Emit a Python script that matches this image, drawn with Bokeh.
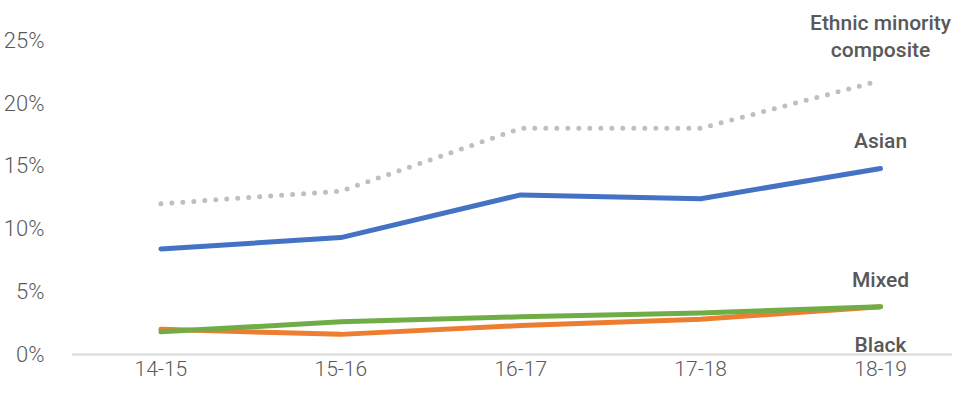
from bokeh.plotting import figure
from bokeh.models import Range1d, FixedTicker, Label, Span
from bokeh.embed import file_html
from bokeh.resources import INLINE

# ---- data ----
years = ["14-15", "15-16", "16-17", "17-18", "18-19"]
composite = [12.0, 13.0, 18.0, 18.0, 21.8]
asian = [8.4, 9.3, 12.7, 12.4, 14.8]
mixed = [1.8, 2.6, 3.0, 3.3, 3.8]
black = [2.0, 1.6, 2.3, 2.8, 3.8]
y_ticks = [0, 5, 10, 15, 20, 25]
y_tick_labels = ["0%", "5%", "10%", "15%", "20%", "25%"]

FONT = "Roboto Light"
LFONT = "Roboto Medium"
TXT = "#595959"

xs = list(range(len(years)))

p = figure(width=952, height=384, output_backend="svg", toolbar_location=None,
           x_range=Range1d(-0.497, 4.40), y_range=Range1d(-0.32, 28.17),
           min_border_left=0, min_border_right=0, min_border_top=0, min_border_bottom=0)
p.outline_line_color = None
p.xgrid.grid_line_color = None
p.ygrid.grid_line_color = None

# baseline at 0%
p.add_layout(Span(location=0, dimension="width", line_color="#D9D9D9", line_width=2, level="underlay"))

p.line(xs, composite, line_color="#BFBFBF", line_width=5, line_dash="0 11", line_cap="round", line_join="round")
p.line(xs, asian, line_color="#4472C4", line_width=5, line_cap="round", line_join="round")
p.line(xs, black, line_color="#ED7D31", line_width=5, line_cap="round", line_join="round")
p.line(xs, mixed, line_color="#70AD47", line_width=5, line_cap="round", line_join="round")

# axes
p.xaxis.ticker = FixedTicker(ticks=xs)
p.xaxis.major_label_overrides = {i: t for i, t in enumerate(years)}
p.xaxis.axis_line_color = None
p.xaxis.major_tick_line_color = None
p.xaxis.minor_tick_line_color = None
p.xaxis.major_tick_out = 0
p.xaxis.major_label_standoff = 2
p.xaxis.axis_label = " "
p.xaxis.axis_label_text_font_size = "3px"
p.xaxis.axis_label_standoff = 0
p.xaxis.major_label_text_font = FONT
p.xaxis.major_label_text_font_size = "21px"
p.xaxis.major_label_text_color = TXT

p.yaxis.ticker = FixedTicker(ticks=y_ticks)
p.yaxis.major_label_overrides = {t: l for t, l in zip(y_ticks, y_tick_labels)}
p.yaxis.axis_line_color = None
p.yaxis.major_tick_line_color = None
p.yaxis.minor_tick_line_color = None
p.yaxis.major_label_standoff = 21
p.yaxis.major_label_text_font = FONT
p.yaxis.major_label_text_font_size = "22px"
p.yaxis.major_label_text_color = TXT

# series labels
label_specs = [("Ethnic minority", 26.4), ("composite", 24.2), ("Asian", 16.95), ("Mixed", 5.95), ("Black", 0.75)]
for txt, yy in label_specs:
    p.add_layout(Label(x=xs[-1], y=yy, text=txt, text_align="center", text_baseline="middle",
                       text_font=LFONT, text_font_size="21px",
                       text_color=TXT))

open("out.html", "w").write(file_html(p, INLINE))
